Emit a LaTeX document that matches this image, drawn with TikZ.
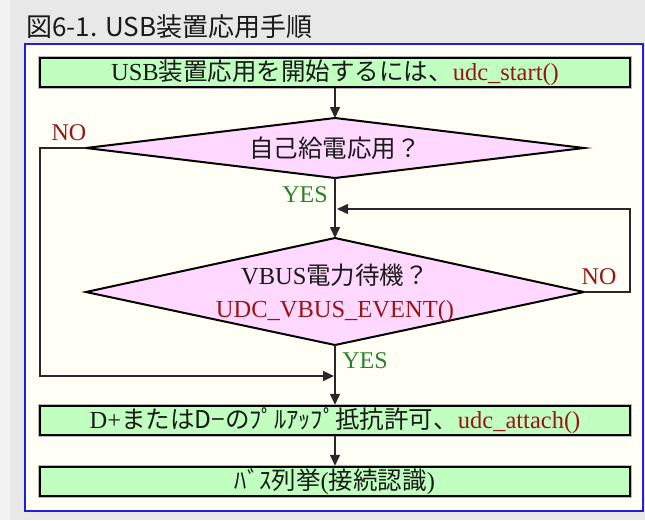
\documentclass[tikz,border=0pt]{standalone}
\usepackage{fontspec}
\setmainfont{Liberation Serif}
\newfontfamily\jpf{Noto Sans CJK JP}
\usetikzlibrary{arrows.meta}
\definecolor{bggray}{RGB}{232,232,232}
\definecolor{stripgray}{RGB}{242,242,242}
\definecolor{panelfill}{RGB}{255,255,246}
\definecolor{panelblue}{RGB}{30,30,220}
\definecolor{boxgreen}{RGB}{192,255,192}
\definecolor{dpink}{RGB}{255,216,255}
\definecolor{fred}{RGB}{155,20,20}
\definecolor{fgreen}{RGB}{40,130,40}
\definecolor{linegray}{RGB}{40,40,40}
\definecolor{txt}{RGB}{26,26,26}
\begin{document}
\begin{tikzpicture}[x=1pt,y=-1pt,
  boxnode/.style={draw=black, line width=2.5pt, fill=boxgreen,
    preaction={draw=gray!55, line width=4pt},
    minimum width=590pt, minimum height=29pt, inner sep=0pt,
    text=txt, font=\fontsize{24.5}{26}\selectfont},
  decshape/.style={draw=black, line width=2pt, fill=dpink, line join=miter},
  dectext/.style={inner sep=0pt, align=center, text=txt, font=\fontsize{24.5}{33}\selectfont},
  conn/.style={draw=linegray, line width=1.5pt},
  arr/.style={conn, -{Triangle[length=11pt,width=10pt]}},
  lbl/.style={inner sep=0pt, font=\fontsize{24}{26}\selectfont}]
\useasboundingbox (0,0) rectangle (645,520);
\fill[bggray] (0,0) rectangle (645,520);
\fill[stripgray] (0,0) rectangle (10,520);
\draw[panelblue, fill=panelfill, line width=2pt] (24.5,43.5) rectangle (642.5,510.5);
\node[anchor=west, inner sep=0pt, text=txt, font=\jpf\fontsize{26}{28}\selectfont] (title) at (26,27) {図6-1. USB装置応用手順};
\node[boxnode] (b1) at (335,72.5) {USB{\jpf 装置応用を開始するには、}\textcolor{fred}{udc\_start()}};
% decision 1
\coordinate (d1n) at (335,118);
\coordinate (d1e) at (584,148);
\coordinate (d1s) at (335,178);
\coordinate (d1w) at (86,148);
\draw[decshape] (d1n) -- (d1e) -- (d1s) -- (d1w) -- cycle;
\node[dectext] (d1t) at (335,148) {{\jpf 自己給電応用？}};
% decision 2
\coordinate (d2n) at (335,238);
\coordinate (d2e) at (584,292);
\coordinate (d2s) at (335,345);
\coordinate (d2w) at (86,292);
\draw[decshape] (d2n) -- (d2e) -- (d2s) -- (d2w) -- cycle;
\node[dectext] (d2t) at (335,293) {VBUS{\jpf 電力待機？}\\\textcolor{fred}{UDC\_VBUS\_EVENT()}};
\node[boxnode] (b3) at (335,420.5) {D+{\jpf またはD−のﾌﾟﾙｱｯﾌﾟ抵抗許可、}\textcolor{fred}{udc\_attach()}};
\node[boxnode] (b4) at (335,481.5) {{\jpf ﾊﾞｽ列挙}({\jpf 接続認識})};
\coordinate (nl) at (40,148);
\coordinate (nb) at (40,376);
\coordinate (mg) at (334,376);
\coordinate (fr) at (630,292);
\coordinate (ft) at (630,209);
\coordinate (fb) at (337,209);
\draw[arr] (b1.south) -- (d1n);
\draw[arr] (d1s) -- (d2n);
\draw[arr] (d2s) -- (b3.north);
\draw[arr] (b3.south) -- (b4.north);
\draw[arr] (d1w) -- (nl) -- (nb) -- (mg);
\draw[arr] (d2e) -- (fr) -- (ft) -- (fb);
\node[lbl, text=fred] (no1) at (69,133) {NO};
\node[lbl, text=fgreen] (yes1) at (305,195) {YES};
\node[lbl, text=fred] (no2) at (599,277) {NO};
\node[lbl, text=fgreen] (yes2) at (365,361) {YES};
\end{tikzpicture}
\end{document}
